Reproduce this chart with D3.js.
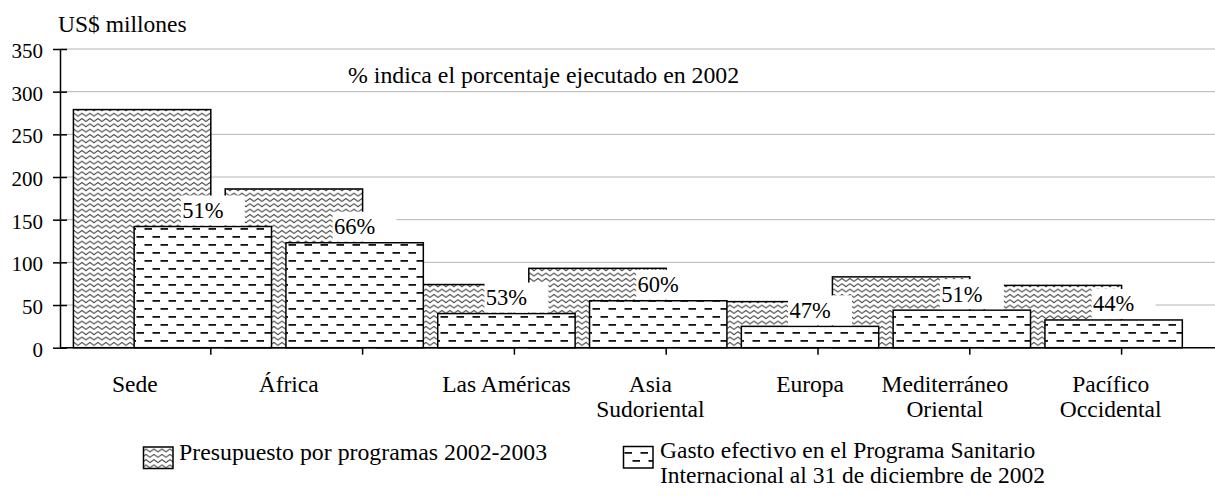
<!DOCTYPE html>
<html>
<head>
<meta charset="utf-8">
<script src="https://cdn.jsdelivr.net/npm/d3@7"></script>
<style>
  body { margin: 0; background: #fff; }
  text { font-family: "Liberation Serif", "Times New Roman", serif; fill: #000; }
</style>
</head>
<body>
<script>
// data
const categories = ["Sede", "África", "Las Américas", "Asia Sudoriental", "Europa", "Mediterráneo Oriental", "Pacífico Occidental"];
const catLines = [["Sede"], ["África"], ["Las Américas"], ["Asia", "Sudoriental"], ["Europa"], ["Mediterráneo", "Oriental"], ["Pacífico", "Occidental"]];
const budget = [279, 186, 74, 93, 54, 83, 73];
const spent = [142, 123, 40, 55, 25, 44, 32.5];
const pctLabels = ["51%", "66%", "53%", "60%", "47%", "51%", "44%"];
const yTicks = [0, 50, 100, 150, 200, 250, 300, 350];

// layout
const width = 1215, height = 496;
const axisX = 60;
const serif = "Liberation Serif, Times New Roman, serif";
const labelShift = [0, 2, 68, 60, 68, 51, 65]; // category labels were hand placed

const svg = d3.select("body").append("svg")
  .attr("width", width)
  .attr("height", height)
  .style("font-family", serif);

// patterns
const defs = svg.append("defs");
const wave = defs.append("pattern")
  .attr("id", "wave")
  .attr("patternUnits", "userSpaceOnUse")
  .attr("width", 8).attr("height", 5.33);
wave.append("rect").attr("width", 8).attr("height", 5.33).attr("fill", "#fff");
wave.append("path")
  .attr("d", "M-2,4.2 L2,1.3 L6,4.2 L10,1.3")
  .attr("fill", "none").attr("stroke", "#444").attr("stroke-width", 1.05);

const dash = defs.append("pattern")
  .attr("id", "dash")
  .attr("patternUnits", "userSpaceOnUse")
  .attr("width", 16).attr("height", 16);
dash.append("rect").attr("width", 16).attr("height", 16).attr("fill", "#fff");
dash.append("rect").attr("x", 0.5).attr("y", 4).attr("width", 7.5).attr("height", 1.8).attr("fill", "#111");
dash.append("rect").attr("x", 8.5).attr("y", 12).attr("width", 7.5).attr("height", 1.8).attr("fill", "#111");

// scales
const x = d3.scaleBand()
  .domain(categories)
  .range([59, 59 + 7 * 151.8]);
const bw = x.bandwidth();

const y = d3.scaleLinear()
  .domain([0, 350])
  .range([347.7, 49]);

// gridlines
svg.append("g")
  .selectAll("line")
  .data(yTicks.filter(d => d > 0))
  .join("line")
    .attr("x1", axisX).attr("x2", width)
    .attr("y1", d => y(d)).attr("y2", d => y(d))
    .attr("stroke", "#b4b4b4").attr("stroke-width", 1);

// budget bars first, then expenditure bars on top
const barW = bw * 0.905;
svg.append("g")
  .selectAll("rect")
  .data(categories)
  .join("rect")
    .attr("x", d => x(d) + bw * 0.095)
    .attr("y", (d, i) => y(budget[i]))
    .attr("width", barW)
    .attr("height", (d, i) => y(0) - y(budget[i]))
    .attr("fill", "url(#wave)")
    .attr("stroke", "#000").attr("stroke-width", 1.5);

svg.append("g")
  .selectAll("rect")
  .data(categories)
  .join("rect")
    .attr("x", d => x(d) + bw * 0.495)
    .attr("y", (d, i) => y(spent[i]))
    .attr("width", barW)
    .attr("height", (d, i) => y(0) - y(spent[i]))
    .attr("fill", "url(#dash)")
    .attr("stroke", "#000").attr("stroke-width", 1.5);

// y axis
const yAxis = svg.append("g")
  .attr("transform", `translate(${axisX},0)`)
  .call(d3.axisLeft(y).tickValues(yTicks).tickSize(7).tickSizeOuter(0).tickPadding(10));
yAxis.attr("font-family", serif);
yAxis.select(".domain").attr("stroke-width", 1.5);
yAxis.selectAll(".tick line").attr("x1", 7).attr("stroke-width", 1.5);
yAxis.selectAll(".tick text")
  .attr("font-size", "21px")
  .style("font-family", serif)
  .attr("dy", "0.4em");

// x axis
svg.append("line")
  .attr("x1", axisX).attr("x2", width)
  .attr("y1", y(0)).attr("y2", y(0))
  .attr("stroke", "#000").attr("stroke-width", 1.5);
svg.append("g")
  .selectAll("line")
  .data(categories)
  .join("line")
    .attr("x1", d => x(d) + bw).attr("x2", d => x(d) + bw)
    .attr("y1", y(0)).attr("y2", y(0) + 7)
    .attr("stroke", "#000").attr("stroke-width", 1.5);

// category labels
const catG = svg.append("g")
  .selectAll("text")
  .data(categories)
  .join("text")
    .attr("text-anchor", "middle")
    .attr("font-size", "23.5px")
    .attr("x", (d, i) => x(d) + bw / 2 + labelShift[i])
    .attr("y", 392);
catG.selectAll("tspan")
  .data((d, i) => catLines[i].map(t => ({t, xx: x(d) + bw / 2 + labelShift[i]})))
  .join("tspan")
    .attr("x", d => d.xx)
    .attr("dy", (d, j) => j === 0 ? 0 : 25)
    .text(d => d.t);

// percentage labels with white boxes
const pctG = svg.append("g")
  .selectAll("g")
  .data(categories)
  .join("g")
    .attr("transform", (d, i) => `translate(${x(d) + bw * 0.495 + barW / 2},${y(spent[i])})`);
pctG.append("rect")
  .attr("x", -22).attr("y", -31)
  .attr("width", 64).attr("height", 30)
  .attr("fill", "#fff");
pctG.append("text")
  .attr("text-anchor", "middle")
  .attr("font-size", "22.5px")
  .attr("y", -8.5)
  .text((d, i) => pctLabels[i]);

// titles
svg.append("text")
  .attr("x", 58).attr("y", 31.5)
  .attr("font-size", "23.5px")
  .text("US$ millones");
svg.append("text")
  .attr("x", 348).attr("y", 83)
  .attr("font-size", "23.8px")
  .text("% indica el porcentaje ejecutado en 2002");

// legend
const legend = svg.append("g");
legend.append("rect")
  .attr("x", 143.5).attr("y", 447).attr("width", 29.5).attr("height", 21.5)
  .attr("fill", "url(#wave)").attr("stroke", "#000").attr("stroke-width", 1.5);
legend.append("text")
  .attr("x", 179).attr("y", 460)
  .attr("font-size", "23.8px")
  .text("Presupuesto por programas 2002-2003");
legend.append("rect")
  .attr("x", 623.5).attr("y", 446.5).attr("width", 29.5).attr("height", 21.5)
  .attr("fill", "url(#dash)").attr("stroke", "#000").attr("stroke-width", 1.5);
legend.append("text")
  .attr("x", 660).attr("y", 458)
  .attr("font-size", "23.5px")
  .text("Gasto efectivo en el Programa Sanitario");
legend.append("text")
  .attr("x", 660).attr("y", 483)
  .attr("font-size", "23.5px")
  .text("Internacional al 31 de diciembre de 2002");
</script>
</body>
</html>
